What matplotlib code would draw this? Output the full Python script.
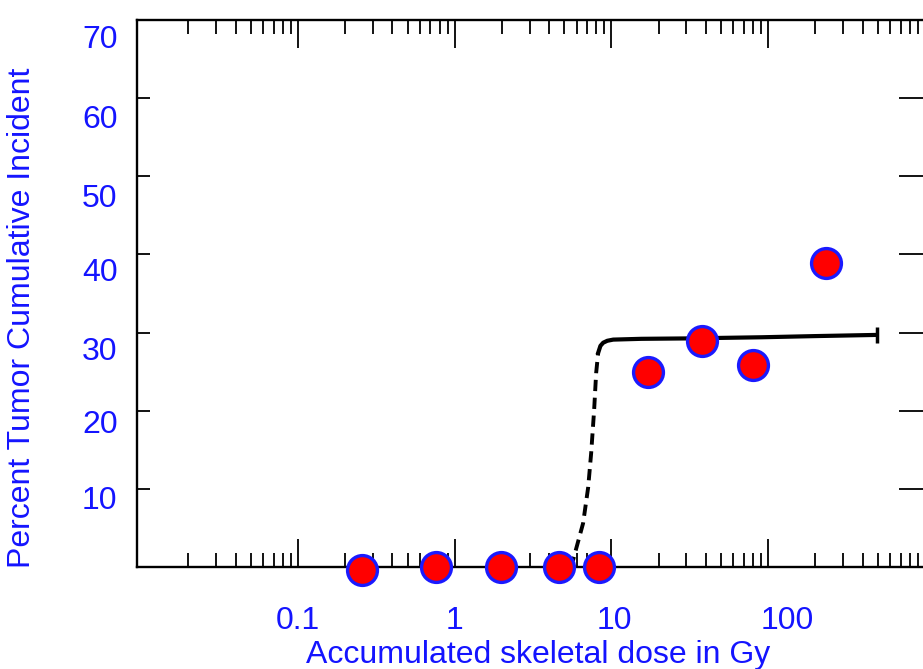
import matplotlib
matplotlib.use("Agg")
import matplotlib.pyplot as plt
from matplotlib.ticker import LogLocator, NullFormatter, FixedLocator
from matplotlib.transforms import ScaledTranslation

plt.rcParams['font.family'] = ['Liberation Sans', 'DejaVu Sans']

# Observed tumour incidence versus accumulated skeletal dose
dose_gy = [0.255, 0.757, 1.97, 4.63, 8.35, 17.2, 38.0, 80.5, 232]
incidence_pct = [-0.4, 0.0, 0.0, 0.0, 0.0, 25.0, 28.9, 25.9, 38.9]

# Fitted response: steep rise (dashed) then plateau (solid)
rise_dose = [5.37, 5.69, 6.59, 7.10, 7.42, 7.75, 7.98, 8.22]
rise_pct = [0.0, 0.9, 5.6, 10.2, 14.6, 20.1, 24.8, 27.4]
plateau_dose = [8.22, 8.50, 8.85, 9.40, 10.26, 15.5, 30.0, 90.6, 200, 493]
plateau_pct = [27.4, 28.3, 28.7, 28.95, 29.1, 29.2, 29.25, 29.4, 29.55, 29.7]

x_ticks = [0.1, 1, 10, 100]
x_tick_labels = ['0.1', '1', '10', '100']
y_ticks = [10, 20, 30, 40, 50, 60, 70]
y_tick_labels = ['10', '20', '30', '40', '50', '60', '70']

label_blue = '#1414ff'
text_size = 23

fig = plt.figure(figsize=(9.23, 6.69), dpi=100)
ax = fig.add_axes([137 / 923, 1 - 567 / 669, (925 - 137) / 923, (567 - 20) / 669])
ax.set_xscale('log')
ax.set_xlim(10 ** -2.027, 1000)
ax.set_ylim(0, 70)

ax.plot(rise_dose, rise_pct, color='black', lw=2.8, ls=(0, (2.9, 1.7)),
        solid_capstyle='butt', dash_capstyle='butt', zorder=2)
ax.plot(plateau_dose, plateau_pct, color='black', lw=3.0, zorder=2,
        marker='|', markevery=[len(plateau_dose) - 1], markersize=12,
        markeredgewidth=2.5)

ax.plot(dose_gy, incidence_pct, ls='none', marker='o', markersize=21.5,
        markerfacecolor='#ff0000', markeredgecolor='#1a1aff',
        markeredgewidth=2.4, clip_on=False, zorder=3)

for side in ['left', 'right', 'top', 'bottom']:
    ax.spines[side].set_linewidth(1.7)
    ax.spines[side].set_color('black')

# log ticks drawn inward on top and bottom
ax.xaxis.set_major_locator(FixedLocator(x_ticks))
ax.set_xticklabels(x_tick_labels)
ax.xaxis.set_minor_locator(LogLocator(base=10, subs=range(2, 10), numticks=20))
ax.xaxis.set_minor_formatter(NullFormatter())
ax.tick_params(axis='x', which='major', direction='in', length=20, width=1.3,
               top=True, bottom=True, labelsize=text_size, labelcolor=label_blue, pad=28)
ax.tick_params(axis='x', which='minor', direction='in', length=10, width=1.3,
               top=True, bottom=True)

ax.yaxis.set_major_locator(FixedLocator(y_ticks))
ax.set_yticklabels(y_tick_labels)
ax.tick_params(axis='y', which='major', direction='in', length=9, width=1.3,
               left=True, right=False, labelsize=text_size, labelcolor=label_blue, pad=14)
ax.yaxis.set_minor_locator(FixedLocator([]))

# longer inward ticks on the right-hand spine
ax_r = ax.twinx()
ax_r.set_ylim(0, 70)
ax_r.yaxis.set_major_locator(FixedLocator(y_ticks))
ax_r.tick_params(axis='y', direction='in', length=19, width=1.3, labelright=False)
for side in ['left', 'right', 'top', 'bottom']:
    ax_r.spines[side].set_visible(False)

# nudge tick labels to their printed positions
x_shift_px = [0, 0, 3, 19]
for lab, dx in zip(ax.get_xticklabels(), x_shift_px):
    lab.set_transform(lab.get_transform() + ScaledTranslation(dx / 100, 0, fig.dpi_scale_trans))
y_shift_px = [9, 11, 16, 15, 19, 18, 17]
for lab, dy in zip(ax.get_yticklabels(), y_shift_px):
    lab.set_transform(lab.get_transform() + ScaledTranslation(0, -dy / 100, fig.dpi_scale_trans))

fig.text(22 / 923, 1 - 318 / 669, 'Percent Tumor Cumulative Incident', rotation=90,
         ha='center', va='center', fontsize=text_size, color=label_blue)
fig.text(538 / 923, 1 - 655 / 669, 'Accumulated skeletal dose in Gy',
         ha='center', va='center', fontsize=text_size, color=label_blue)

fig.savefig('out.png', dpi=100)
